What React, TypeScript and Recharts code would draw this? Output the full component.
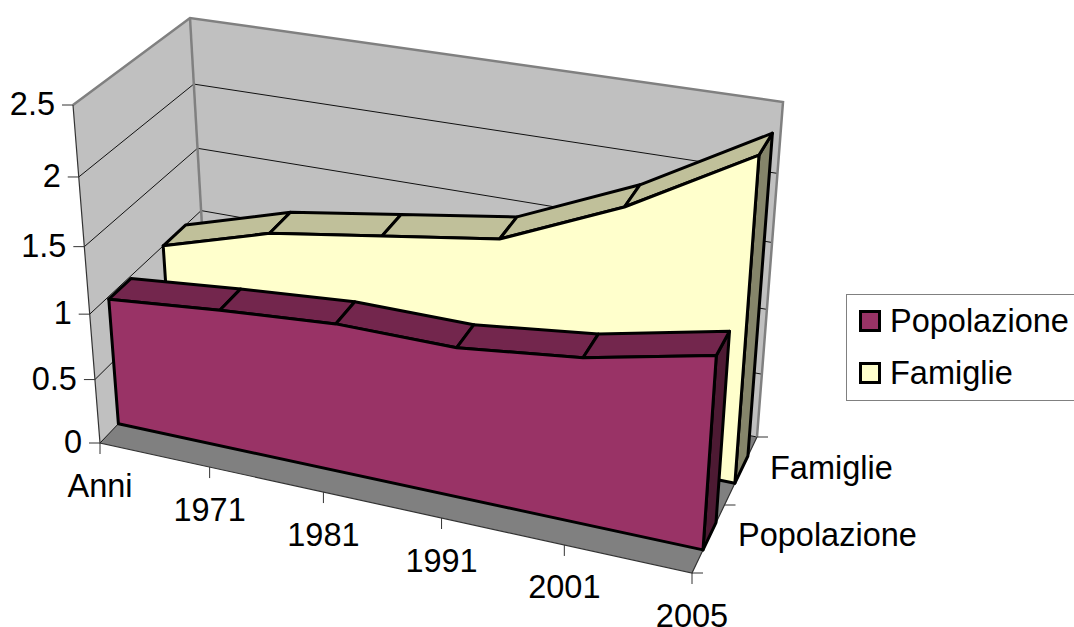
import { AreaChart, Area, XAxis, YAxis, Legend } from "recharts";

const CATEGORIES = ["Anni", "1971", "1981", "1991", "2001", "2005"];
const POPOLAZIONE = [0.98, 1.06, 1.125, 1.12, 1.22, 1.41];
const FAMIGLIE = [1, 1.25, 1.38, 1.51, 1.89, 2.39];
const Y_TICKS = [0, 0.5, 1, 1.5, 2, 2.5];
const DEPTH_LABELS = ["Popolazione", "Famiglie"];

const WIDTH = 1074;
const HEIGHT = 627;
// the flat plot rectangle recharts works in, before it is projected
const PLOT = { left: 100, top: 50, width: 600, height: 400 };
const LEGEND_WIDTH = 228;
const MAX_Y = 2.5;
const FONT_SIZE = 32.5;

type Pt = [number, number];
type Quad = [Pt, Pt, Pt, Pt]; // u0v0, u1v0, u1v1, u0v1

// box corners on screen: front plane and back plane
const FRONT: Quad = [[100, 443], [692, 573], [716, 210], [73, 105]];
const BACK: Quad = [[208, 330], [757, 437], [783, 102], [190, 18]];

const lerp = (a: Pt, b: Pt, t: number): Pt => [a[0] + (b[0] - a[0]) * t, a[1] + (b[1] - a[1]) * t];

// unit square -> quad homography
const project = (z: number, u: number, v: number): Pt => {
  const [[x0, y0], [x1, y1], [x2, y2], [x3, y3]] = FRONT.map((p, i) => lerp(p, BACK[i], z));
  const dx1 = x1 - x2;
  const dx2 = x3 - x2;
  const dy1 = y1 - y2;
  const dy2 = y3 - y2;
  const sx = x0 - x1 + x2 - x3;
  const sy = y0 - y1 + y2 - y3;
  const den = dx1 * dy2 - dx2 * dy1;
  const g = (sx * dy2 - dx2 * sy) / den;
  const h = (dx1 * sy - sx * dy1) / den;
  const w = g * u + h * v + 1;
  return [
    ((x1 - x0 + g * x1) * u + (x3 - x0 + h * x3) * v + x0) / w,
    ((y1 - y0 + g * y1) * u + (y3 - y0 + h * y3) * v + y0) / w,
  ];
};

const toU = (x: number) => (x - PLOT.left) / PLOT.width;
const toV = (y: number) => (PLOT.top + PLOT.height - y) / PLOT.height;
const poly = (pts: Pt[]) => pts.map((p) => `${p[0].toFixed(1)},${p[1].toFixed(1)}`).join(" ");

const Frame = () => {
  const leftWall = [project(0, 0, 0), project(1, 0, 0), project(1, 0, 1), project(0, 0, 1)];
  const backWall = [project(1, 0, 0), project(1, 1, 0), project(1, 1, 1), project(1, 0, 1)];
  const floor = [project(0, 0, 0), project(0, 1, 0), project(1, 1, 0), project(1, 0, 0)];
  return (
    <g>
      <polygon points={poly(leftWall)} fill="#C0C0C0" />
      <polygon points={poly(backWall)} fill="#C0C0C0" />
      <polygon points={poly(floor)} fill="#808080" />
      {Y_TICKS.slice(0, -1).map((t) => {
        const v = t / MAX_Y;
        return (
          <polyline
            key={t}
            points={poly([project(0, 0, v), project(1, 0, v), project(1, 1, v)])}
            fill="none"
            stroke="#111"
            strokeWidth={1}
          />
        );
      })}
      <polyline
        points={poly([project(0, 0, 1), project(1, 0, 1), project(1, 1, 1), project(1, 1, 0)])}
        fill="none"
        stroke="#808080"
        strokeWidth={2.5}
      />
      <line
        x1={project(1, 0, 1)[0]}
        y1={project(1, 0, 1)[1]}
        x2={project(1, 0, 0)[0]}
        y2={project(1, 0, 0)[1]}
        stroke="#808080"
        strokeWidth={2.5}
      />
      <polyline
        points={poly([project(0, 0, 1), project(0, 0, 0), project(0, 1, 0), project(1, 1, 0)])}
        fill="none"
        stroke="#333"
        strokeWidth={1.2}
      />
      {[0, 0.5, 1].map((z) => {
        const [x, y] = project(z, 1, 0);
        return <line key={z} x1={x} y1={y} x2={x + 11} y2={y} stroke="#333" strokeWidth={1} />;
      })}
      <text x={738} y={546} fontSize={FONT_SIZE} fontFamily="Liberation Sans" fill="#000">
        {DEPTH_LABELS[0]}
      </text>
      <text x={770} y={479} fontSize={FONT_SIZE} fontFamily="Liberation Sans" fill="#000">
        {DEPTH_LABELS[1]}
      </text>
    </g>
  );
};

const Solid = ({ points, z0, z1, front, top, side }: any) => {
  const front0: Pt[] = points.map((p: any) => project(z0, toU(p.x), toV(p.y)));
  const back0: Pt[] = points.map((p: any) => project(z1, toU(p.x), toV(p.y)));
  const last = points.length - 1;
  const lastU = toU(points[last].x);
  const firstU = toU(points[0].x);
  const line = { stroke: "#000", strokeWidth: 3, strokeLinejoin: "round" as const };
  return (
    <g>
      <polygon
        points={poly([project(z0, lastU, 0), front0[last], back0[last], project(z1, lastU, 0)])}
        fill={side}
        {...line}
      />
      {front0.slice(0, -1).map((p, i) => (
        <polygon key={i} points={poly([p, front0[i + 1], back0[i + 1], back0[i]])} fill={top} {...line} />
      ))}
      <polygon
        points={poly([project(z0, firstU, 0), ...front0, project(z0, lastU, 0)])}
        fill={front}
        {...line}
      />
    </g>
  );
};

const famigliaDot = (props: any) =>
  props.index === 0 ? (
    <g key="famiglie-solid">
      <Frame />
      <Solid points={props.points} z0={0.66} z1={0.86} front="#FFFFCC" top="#C0C09A" side="#85856A" />
    </g>
  ) : (
    <g key={`famiglie-${props.index}`} />
  );

const popolazioneDot = (props: any) =>
  props.index === 0 ? (
    <Solid key="popolazione-solid" points={props.points} z0={0.17} z1={0.37} front="#993366" top="#73264D" side="#4D1A33" />
  ) : (
    <g key={`popolazione-${props.index}`} />
  );

const XTick = ({ x, payload }: any) => {
  const [px, py] = project(0, toU(x), 0);
  return (
    <g>
      <line x1={px} y1={py} x2={px} y2={py + 11} stroke="#333" strokeWidth={1} />
      <text x={px} y={py + 53.5} textAnchor="middle" fontSize={FONT_SIZE} fontFamily="Liberation Sans" fill="#000">
        {payload.value}
      </text>
    </g>
  );
};

const YTick = ({ y, payload }: any) => {
  const [px, py] = project(0, 0, toV(y));
  return (
    <g>
      <line x1={px - 11} y1={py} x2={px} y2={py} stroke="#333" strokeWidth={1} />
      <text x={px - 18} y={py + 10} textAnchor="end" fontSize={FONT_SIZE} fontFamily="Liberation Sans" fill="#000">
        {payload.value}
      </text>
    </g>
  );
};

const SWATCH: Record<string, string> = { Popolazione: "#993366", Famiglie: "#FFFFCC" };

const LegendBox = ({ payload }: any) => (
  <div
    style={{
      boxSizing: "border-box",
      width: LEGEND_WIDTH,
      height: 107,
      border: "1.5px solid #808080",
      borderRight: "none",
      background: "#fff",
      fontFamily: "Liberation Sans",
      fontSize: FONT_SIZE,
    }}
  >
    {[...(payload ?? [])].reverse().map((entry: any) => (
      <div key={entry.value} style={{ display: "flex", alignItems: "center", height: 52, paddingLeft: 12 }}>
        <span
          style={{
            boxSizing: "border-box",
            width: 22,
            height: 22,
            marginRight: 9,
            border: "3px solid #000",
            background: SWATCH[entry.value],
          }}
        />
        {entry.value}
      </div>
    ))}
  </div>
);

const table = CATEGORIES.map((anno, i) => ({
  anno,
  Popolazione: POPOLAZIONE[i],
  Famiglie: FAMIGLIE[i],
}));

export default function App() {
  return (
    <div style={{ position: "absolute", left: 0, top: 0, width: WIDTH, height: HEIGHT, overflow: "hidden", background: "#fff" }}>
      <AreaChart
        width={WIDTH}
        height={HEIGHT}
        data={table}
        margin={{
          top: PLOT.top,
          left: PLOT.left - 1,
          bottom: HEIGHT - PLOT.top - PLOT.height - 1,
          right: WIDTH - PLOT.left - PLOT.width - LEGEND_WIDTH,
        }}
      >
        <XAxis dataKey="anno" height={1} interval={0} axisLine={false} tickLine={false} tick={XTick} />
        <YAxis
          width={1}
          domain={[0, MAX_Y]}
          ticks={Y_TICKS}
          interval={0}
          axisLine={false}
          tickLine={false}
          tick={YTick}
        />
        <Legend
          layout="vertical"
          align="right"
          verticalAlign="middle"
          content={LegendBox}
          wrapperStyle={{ position: "absolute", left: 846, top: 294, right: "auto", width: LEGEND_WIDTH, height: 107 }}
        />
        <Area
          type="linear"
          dataKey="Famiglie"
          fill="none"
          stroke="none"
          dot={famigliaDot}
          activeDot={false}
          isAnimationActive={false}
        />
        <Area
          type="linear"
          dataKey="Popolazione"
          fill="none"
          stroke="none"
          dot={popolazioneDot}
          activeDot={false}
          isAnimationActive={false}
        />
      </AreaChart>
    </div>
  );
}
